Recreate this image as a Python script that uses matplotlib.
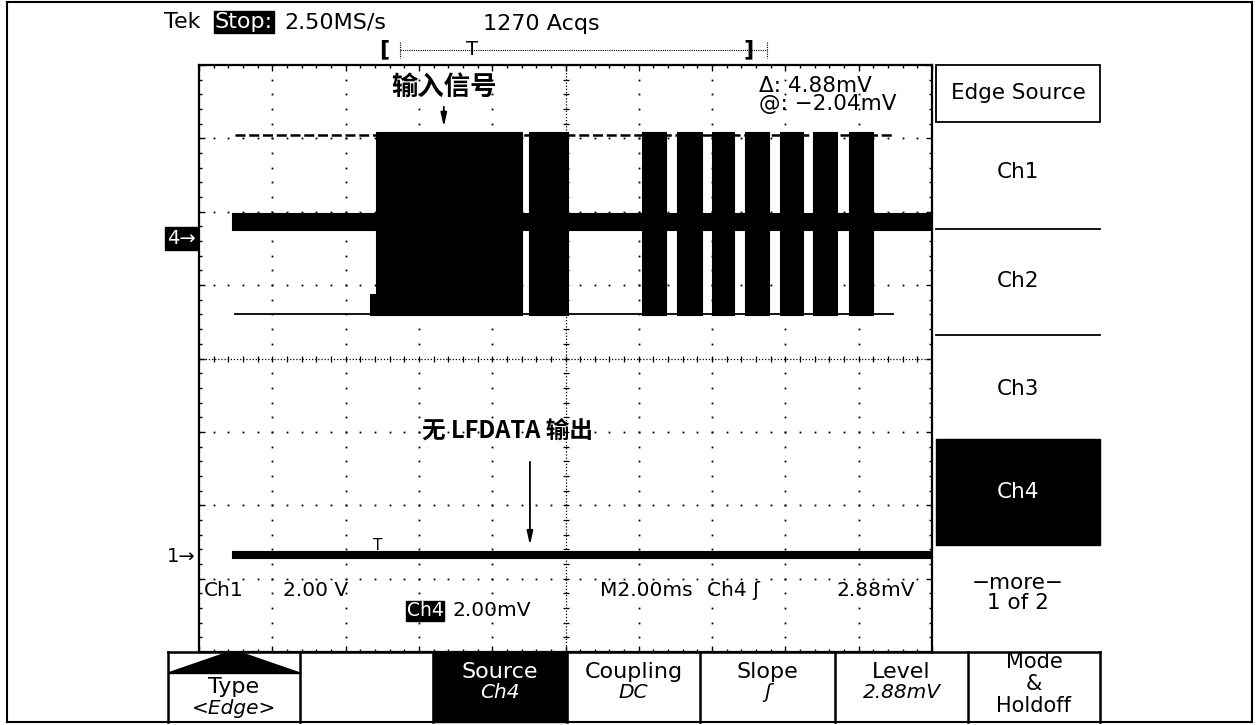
import numpy as np
import matplotlib.pyplot as plt
from matplotlib.patches import Rectangle, Polygon
from matplotlib.transforms import blended_transform_factory

plt.rcParams['font.family'] = ['DejaVu Sans', 'Noto Sans CJK SC']

# scope settings
ms_per_div = 2.0
ch4_mv_per_div = 2.0
ch1_v_per_div = 2.0
ch4_ground_div = 1.63
ch1_ground_div = -2.70

# Ch4: input signal (mV), burst times in ms
ch4_start_ms = 0.9
ch4_idle_mv = [0.24, 0.71]
ch4_burst_mv = [-2.08, 2.92]
burst_start_ms = [4.83, 9.00, 12.09, 13.04, 13.99, 14.90, 15.85, 16.76, 17.73]
burst_end_ms = [8.81, 10.06, 12.73, 13.72, 14.60, 15.55, 16.48, 17.41, 18.39]
leadin_ms = [4.67, 4.83]
leadin_mv = [-2.08, -1.50]

# Ch1: LFDATA output (V)
ch1_start_ms = 0.9
ch1_band_v = [-0.04, 0.16]
trigger_ms = 4.88

# horizontal cursors (mV)
cursor_mv = [2.84, -2.04]
cursor_span_ms = [0.98, 18.94]

# menus
side_menu = ['Ch1', 'Ch2', 'Ch3', 'Ch4']
side_menu_y = [172, 281, 389, 492]
bottom_menu = [('Type', '<Edge>'), ('', ''), ('Source', 'Ch4'), ('Coupling', 'DC'),
               ('Slope', 'ʃ'), ('Level', '2.88mV'), ('Mode', '&', 'Holdoff')]
bottom_edges = [168, 300, 433, 567, 700, 835, 968, 1100]

W, H = 1258, 725
fig = plt.figure(figsize=(W / 100, H / 100), dpi=100)

# graticule: 10 x 8 divisions
gx0, gy0, gx1, gy1 = 199, 65, 932, 652
ax = fig.add_axes([gx0 / W, (H - gy1) / H, (gx1 - gx0) / W, (gy1 - gy0) / H])
ax.set_xlim(0, 10 * ms_per_div)
ax.set_ylim(-4, 4)
for s in ax.spines.values():
    s.set_linewidth(1.6)
ax.set_xticks(np.arange(0, 20.01, 2))
ax.set_yticks(np.arange(-4, 4.01, 1))
ax.set_xticks(np.arange(0, 20.01, 0.4), minor=True)
ax.set_yticks(np.arange(-4, 4.01, 0.2), minor=True)
ax.tick_params(which='both', direction='in', top=True, right=True,
               labelleft=False, labelbottom=False, width=1)
ax.tick_params(which='major', length=4)
ax.tick_params(which='minor', length=2.5)

ys = np.arange(-4, 4.001, 0.2)
xs = np.arange(0, 20.001, 0.4)
for k in range(1, 10):
    if k == 5:
        continue
    ax.plot(np.full_like(ys, k * 2.0), ys, ls='none', marker='s', ms=1.3, mew=0, color='k')
for j in [-3, -2, -1, 1, 2, 3]:
    ax.plot(xs, np.full_like(xs, j), ls='none', marker='s', ms=1.3, mew=0, color='k')
# centre cross
ax.plot([10, 10], [-4, 4], ls=(0, (1, 1.5)), lw=0.9, color='k')
ax.plot([0, 20], [0, 0], ls=(0, (1, 1.5)), lw=0.9, color='k')
ax.plot(np.full_like(ys, 10.0), ys, ls='none', marker='_', ms=5, mew=0.9, color='k')
ax.plot(xs, np.zeros_like(xs), ls='none', marker='|', ms=5, mew=0.9, color='k')


def ch4_div(v):
    return ch4_ground_div + np.asarray(v) / ch4_mv_per_div


def ch1_div(v):
    return ch1_ground_div + np.asarray(v) / ch1_v_per_div


# Ch4 trace
lo, hi = ch4_div(ch4_idle_mv)
ax.fill_between([ch4_start_ms, 20], lo, hi, color='k', lw=0.8)
blo, bhi = ch4_div(ch4_burst_mv)
for s, e in zip(burst_start_ms, burst_end_ms):
    ax.fill_between([s, e], blo, bhi, color='k', lw=0.8)
llo, lhi = ch4_div(leadin_mv)
ax.fill_between(leadin_ms, llo, lhi, color='k', lw=0.8)

# Ch1 trace
c_lo, c_hi = ch1_div(ch1_band_v)
ax.fill_between([ch1_start_ms, 20], c_lo, c_hi, color='k', lw=0.8)
ax.text(trigger_ms, c_hi - 0.03, 'T', fontsize=11, ha='center', va='bottom')

# cursors
ax.plot(cursor_span_ms, [ch4_div(cursor_mv[0])] * 2, color='k', lw=1.8, ls=(0, (4, 1.5)))
ax.plot(cursor_span_ms, [ch4_div(cursor_mv[1])] * 2, color='k', lw=1.3)

# channel ground markers
bt = blended_transform_factory(ax.transAxes, ax.transData)
ax.text(-0.004, ch4_ground_div, '4→', transform=bt, ha='right', va='center', fontsize=14,
        color='white', bbox=dict(boxstyle='square,pad=0.1', fc='k', ec='k'))
ax.text(-0.004, ch1_ground_div, '1→', transform=bt, ha='right', va='center', fontsize=14)

# annotations
arrow = dict(arrowstyle='-|>,head_length=0.8,head_width=0.18', color='k', lw=1.3)
ax.annotate('', xy=(6.68, bhi + 0.03), xytext=(6.68, bhi + 0.38), arrowprops=arrow)
ax.text(6.68, bhi + 0.42, '输入信号', ha='center', va='bottom', fontsize=19,
        family=['Noto Sans CJK SC'], weight='bold')
ax.annotate('', xy=(9.03, c_hi + 0.04), xytext=(9.03, -1.37), arrowprops=arrow)
ax.text(8.42, -1.0, '无 LFDATA 输出', ha='center', va='center', fontsize=17,
        family=['Noto Sans CJK SC'], weight='bold')

# overlay for the instrument frame and readouts
ui = fig.add_axes([0, 0, 1, 1], zorder=5)
ui.set_xlim(0, W)
ui.set_ylim(H, 0)
ui.axis('off')
ui.patch.set_alpha(0)

ui.add_patch(Rectangle((7, 2), 1245, 720, fill=False, lw=1.5, ec='k'))

ft = 16    # header
fr = 14.5  # graticule readouts
fs = 15.5  # side menu
fb = 16    # bottom menu
ui.text(164, 22, 'Tek', fontsize=ft, va='center')
ui.text(215, 22, 'Stop:', fontsize=ft, va='center', color='white',
        bbox=dict(boxstyle='square,pad=0.06', fc='k', ec='k'))
ui.text(284, 22, '2.50MS/s', fontsize=ft, va='center')
ui.text(483, 24, '1270 Acqs', fontsize=ft, va='center')

# record view bar
ui.text(384, 49, '[', fontsize=ft, va='center', ha='center', weight='bold')
ui.plot([400, 767], [50, 50], color='k', lw=0.8, ls=(0, (1, 1)))
ui.plot([400, 400], [42, 58], color='k', lw=0.8, ls=(0, (1, 1)))
ui.plot([767, 767], [42, 58], color='k', lw=0.8, ls=(0, (1, 1)))
ui.text(472, 49, 'T', fontsize=14, va='center', ha='center')
ui.text(749, 49, ']', fontsize=ft, va='center', ha='center', weight='bold')

# readouts in graticule
ui.text(759, 86, 'Δ: 4.88mV', fontsize=fr + 1, va='center')
ui.text(759, 104, '@: −2.04mV', fontsize=fr + 1, va='center')
ui.text(204, 591, 'Ch1', fontsize=fr, va='center')
ui.text(283, 591, '2.00 V', fontsize=fr, va='center')
ui.text(407, 611, 'Ch4', fontsize=fr - 1, va='center', color='white',
        bbox=dict(boxstyle='square,pad=0.03', fc='k', ec='k'))
ui.text(452, 611, '2.00mV', fontsize=fr, va='center')
ui.text(600, 591, 'M2.00ms', fontsize=fr, va='center')
ui.text(707, 591, 'Ch4 ʃ', fontsize=fr, va='center')
ui.text(836, 591, '2.88mV', fontsize=fr, va='center')

# side menu
ui.add_patch(Rectangle((936, 65), 164, 57, fill=False, lw=1.3, ec='k'))
ui.text(1018, 93, 'Edge Source', fontsize=fs, ha='center', va='center')
for yy in [229, 335]:
    ui.plot([936, 1100], [yy, yy], color='k', lw=1.3)
ui.add_patch(Rectangle((936, 439), 164, 106, fc='k', ec='k'))
for name, yy in zip(side_menu, side_menu_y):
    ui.text(1018, yy, name, fontsize=fs, ha='center', va='center',
            color='white' if name == 'Ch4' else 'k')
ui.text(1018, 583, '−more−', fontsize=fs, ha='center', va='center')
ui.text(1018, 603, '1 of 2', fontsize=fs, ha='center', va='center')

# bottom menu
ui.plot([bottom_edges[0], bottom_edges[-1]], [652, 652], color='k', lw=1.8)
ui.add_patch(Rectangle((433, 652), 134, 70, fc='k', ec='k'))
for xx in bottom_edges:
    ui.plot([xx, xx], [652, 722], color='k', lw=1.8)
ui.add_patch(Polygon([[168, 673], [226, 653], [242, 653], [300, 673]], closed=True, fc='k', ec='k'))
ui.plot([168, 300], [673, 673], color='k', lw=1)
for i, item in enumerate(bottom_menu):
    cx = (bottom_edges[i] + bottom_edges[i + 1]) / 2
    col = 'white' if item[0] == 'Source' else 'k'
    if len(item) == 3:
        for txt, yy in zip(item, [662, 684, 706]):
            ui.text(cx, yy, txt, fontsize=fb - 1, ha='center', va='center')
    elif item[0] == 'Type':
        ui.text(cx, 687, item[0], fontsize=fb, ha='center', va='center')
        ui.text(cx, 708, item[1], fontsize=fb - 1.5, ha='center', va='center', style='italic')
    elif item[0]:
        ui.text(cx, 672, item[0], fontsize=fb, ha='center', va='center', color=col)
        ui.text(cx, 692, item[1], fontsize=fb - 1.5, ha='center', va='center', color=col, style='italic')

fig.savefig('out.png', dpi=100)
